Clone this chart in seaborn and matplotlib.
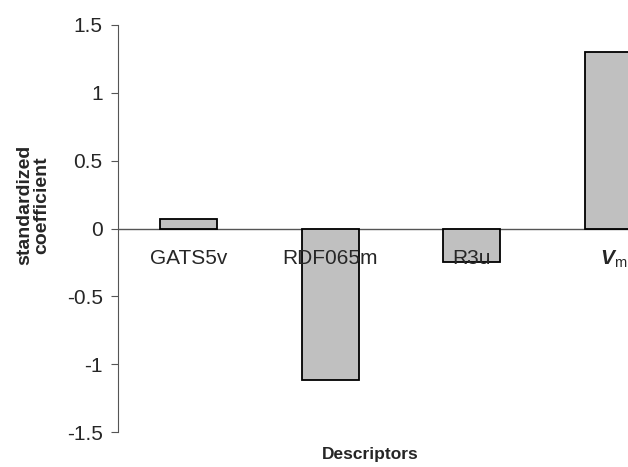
import matplotlib
matplotlib.use('Agg')
import matplotlib.pyplot as plt
import seaborn as sns
import pandas as pd

descriptors = ['GATS5v', 'RDF065m', 'R3u', 'Vm']
coefficients = [0.07, -1.12, -0.25, 1.30]
tick_labels = ['GATS5v', 'RDF065m', 'R3u', r'$\mathbf{V}_{\mathrm{m}}$']
y_ticks = [-1.5, -1, -0.5, 0, 0.5, 1, 1.5]

sns.set_style('white')
plt.rcParams['font.family'] = ['Liberation Sans', 'DejaVu Sans']
plt.rcParams['mathtext.fontset'] = 'custom'
plt.rcParams['mathtext.bf'] = 'Liberation Sans:bold:italic'
plt.rcParams['mathtext.rm'] = 'Liberation Sans'

df = pd.DataFrame({'descriptor': descriptors, 'coef': coefficients})

fig = plt.figure(figsize=(6.28, 4.67), dpi=100)
# axes runs past the right edge, the original is cropped there
ax = fig.add_axes([118 / 628, 1 - 432 / 467, 566 / 628, 407 / 467])

sns.barplot(data=df, x='descriptor', y='coef', color='#c0c0c0', width=0.4,
            edgecolor='black', linewidth=1.3, saturation=1, ax=ax)

ax.set_ylim(-1.5, 1.5)
ax.set_xlim(-0.5, 3.5)
ax.set_yticks(y_ticks)
ax.set_yticklabels(['-1.5', '-1', '-0.5', '0', '0.5', '1', '1.5'], fontsize=15)
ax.axhline(0, color='#555555', linewidth=1, zorder=0)

for s in ['top', 'right', 'bottom']:
    ax.spines[s].set_visible(False)
ax.spines['left'].set_color('#555555')
ax.tick_params(axis='y', left=True, direction='out', length=5, color='#555555', pad=6)
ax.set_xticks([])
ax.set_xlabel('')
ax.set_ylabel('')

for i, lab in enumerate(tick_labels):
    ax.text(i, -0.15, lab, ha='center', va='top', fontsize=15)

fig.text(0.053, 1 - 205 / 467, 'standardized\ncoefficient', rotation=90,
         ha='center', va='center', fontsize=14, fontweight='bold', linespacing=1.0)
fig.text(370 / 628, 1 - 455 / 467, 'Descriptors', ha='center', va='center',
         fontsize=12.5, fontweight='bold')

fig.savefig('out.png', dpi=100)
